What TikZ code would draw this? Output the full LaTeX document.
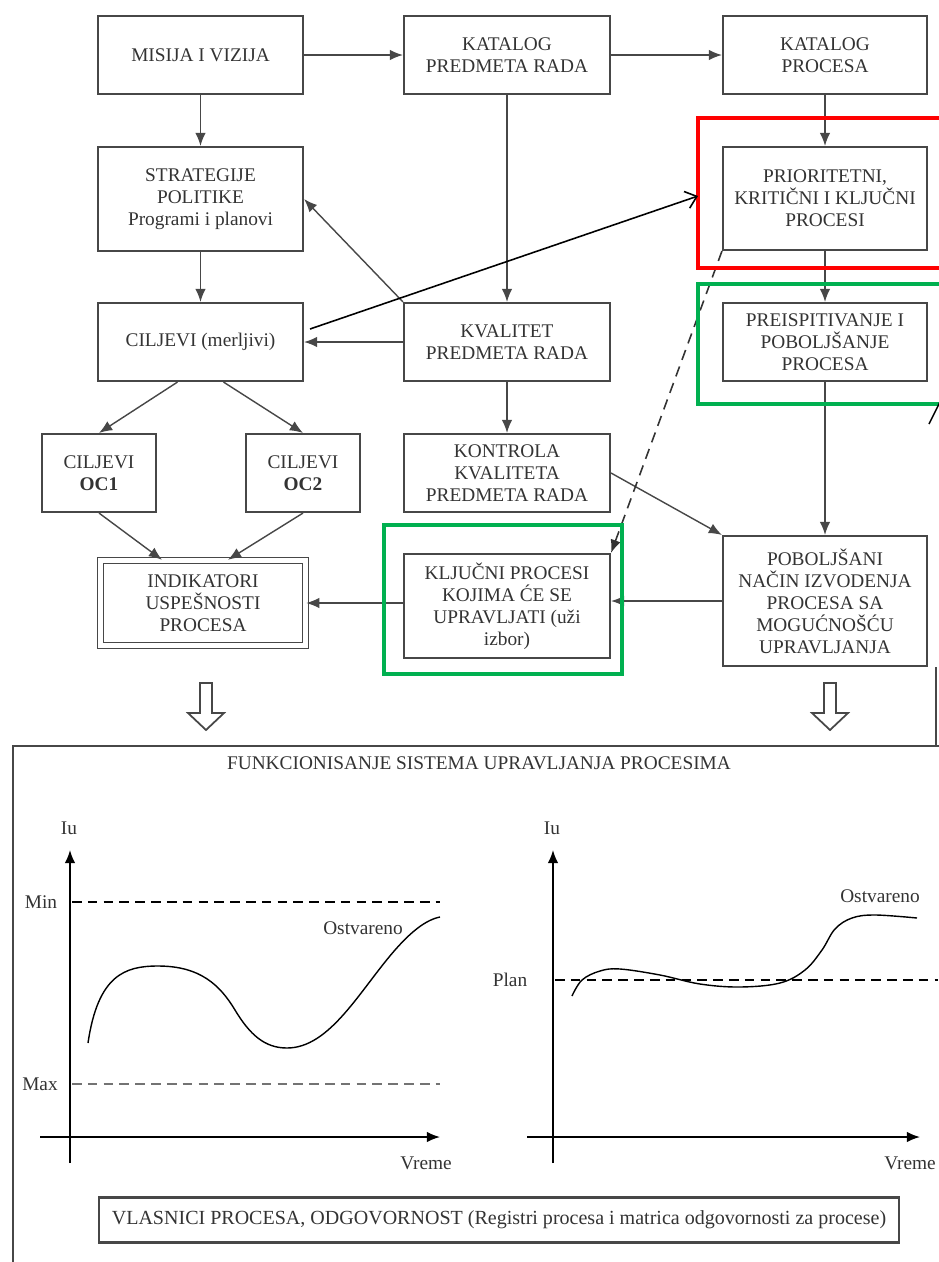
\documentclass[tikz,border=0pt]{standalone}
\usepackage{fontspec}
\setmainfont{Liberation Serif}
\usepackage{xcolor}
\usepackage{tikz}
\usetikzlibrary{calc,arrows.meta}
\definecolor{ink}{HTML}{333333}
\definecolor{edge}{HTML}{474747}
\definecolor{hired}{HTML}{FF0000}
\definecolor{higreen}{HTML}{00B050}
\tikzset{
  box/.style={draw=edge, line width=1.2pt, text=ink, align=center, inner sep=2pt,
    font=\fontsize{11}{12.5}\selectfont},
  dblbox/.style={box, line width=0.8pt, double=white, double distance=2.4pt},
  link/.style={draw=edge, line width=0.8pt, -{Latex[length=7.5pt,width=6pt]}},
  thinlink/.style={draw=black, line width=0.9pt, -{Straight Barb[length=6pt,width=10pt]}},
  dashlink/.style={draw=black!80, line width=0.9pt, dash pattern=on 6pt off 4pt, -{Latex[length=7.5pt,width=6pt]}},
  redframe/.style={draw=hired, line width=2.8pt},
  greenframe/.style={draw=higreen, line width=2pt},
  frame/.style={draw=edge, line width=1.1pt},
  axis/.style={draw=black, line width=0.9pt},
  axisarrow/.style={axis, -{Latex[length=7.5pt,width=6pt]}},
  limit/.style={draw=black, line width=0.9pt, dash pattern=on 5.5pt off 3.5pt},
  curve/.style={draw=black, line width=0.8pt},
  lab/.style={text=ink, font=\fontsize{11}{12.5}\selectfont},
  hollow/.style={draw=edge, line width=1pt, fill=white},
}

\begin{document}
\begin{tikzpicture}[x=0.02cm,y=-0.02cm]
  \useasboundingbox (0,0) rectangle (938,1262);

  % upper chart
  \node[box, minimum width=4.1cm, minimum height=1.56cm] (misija) at (200.5,55) {MISIJA I VIZIJA};
  \node[box, minimum width=4.12cm, minimum height=1.56cm] (katpred) at (507,55) {KATALOG\\PREDMETA RADA};
  \node[box, minimum width=4.08cm, minimum height=1.56cm] (katproc) at (825,55) {KATALOG\\PROCESA};
  \node[box, minimum width=4.1cm, minimum height=2.08cm] (strat) at (200.5,199) {STRATEGIJE\\POLITIKE\\Programi i planovi};
  \node[box, minimum width=4.08cm, minimum height=2.06cm] (crit) at (825,198.5) {PRIORITETNI,\\KRITIČNI I KLJUČNI\\PROCESI};
  \node[box, minimum width=4.1cm, minimum height=1.56cm] (cilj) at (200.5,342) {CILJEVI (merljivi)};
  \node[box, minimum width=4.12cm, minimum height=1.56cm] (kval) at (507,342) {KVALITET\\PREDMETA RADA};
  \node[box, minimum width=4.08cm, minimum height=1.56cm] (preisp) at (825,342) {PREISPITIVANJE I\\POBOLJŠANJE\\PROCESA};
  \node[box, minimum width=2.28cm, minimum height=1.56cm] (oc1) at (99,473) {CILJEVI\\\textbf{OC1}};
  \node[box, minimum width=2.28cm, minimum height=1.56cm] (oc2) at (303,473) {CILJEVI\\\textbf{OC2}};
  \node[box, minimum width=4.12cm, minimum height=1.56cm] (kontr) at (507,473) {KONTROLA\\KVALITETA\\PREDMETA RADA};
  \node[dblbox, minimum width=4.1cm, minimum height=1.7cm] (ind) at (203,603) {INDIKATORI\\USPEŠNOSTI\\PROCESA};
  \node[box, minimum width=4.12cm, minimum height=2.08cm] (klj) at (507,606) {KLJUČNI PROCESI\\KOJIMA ĆE SE\\UPRAVLJATI (uži\\izbor)};
  \node[box, minimum width=4.08cm, minimum height=2.6cm] (pob) at (825,601) {POBOLJŠANI\\NAČIN IZVODENJA\\PROCESA SA\\MOGUĆNOŠĆU\\UPRAVLJANJA};

  \draw[link] (misija) -- (katpred);
  \draw[link] (katpred) -- (katproc);
  \draw[link] (misija) -- (strat);
  \draw[link] (katproc) -- (crit);
  \draw[link] (strat) -- (cilj);
  \draw[link] (katpred) -- (kval);
  \draw[link] (kval.north west) -- (strat.east);
  \draw[link] (kval) -- (cilj);
  \draw[link] (crit) -- (preisp);
  \draw[link] (kval) -- (kontr);
  \draw[link] ($(cilj.south)+(-23,0)$) -- (oc1.north);
  \draw[link] ($(cilj.south)+(23,0)$) -- (oc2.north);
  \draw[link] (oc1.south) -- ($(ind.north)+(-41,0)$);
  \draw[link] (oc2.south) -- ($(ind.north)+(25,0)$);
  \draw[link] (kontr.east) -- (pob.north west);
  \draw[link] (preisp) -- (pob);
  \draw[link] (pob.west) -- (pob.west -| klj.east);
  \draw[link] (klj.west |- ind.east) -- (ind.east);
  \draw[dashlink] (crit.south west) -- (klj.north east);

  % marked frames
  \draw[redframe] (945,118) -- (698,118) -- (698,268) -- (945,268);
  \draw[greenframe] (945,284) -- (698,284) -- (698,404) -- (945,404);
  \draw[greenframe] (384,525) rectangle (622,674);
  \coordinate (critin) at (698,196);
  \draw[thinlink] ($(cilj.east)+(6,-13)$) -- (critin);
  \draw[black, line width=0.8pt] (929,424) -- (940,402);

  \foreach \ax in {206,830}
    \draw[hollow] (\ax-6,683) -- (\ax+6,683) -- (\ax+6,713) -- (\ax+18,713)
      -- (\ax,730) -- (\ax-18,713) -- (\ax-6,713) -- cycle;

  % lower panel
  \draw[frame] (945,746) -- (13,746) -- (13,1270);
  \draw[frame, line width=0.7pt] (936,667) -- (936,746);
  \node[lab] (title) at (479,763) {FUNKCIONISANJE SISTEMA UPRAVLJANJA PROCESIMA};

  % left graph
  \draw[axisarrow] (70,1163) -- (70,850);
  \draw[axisarrow] (40,1137) -- (440,1137);
  \draw[limit] (72,902) -- (440,902);
  \draw[limit, draw=black!55, line width=1.4pt] (72,1084) -- (440,1084);
  \node[lab] (iuone) at (69,828) {Iu};
  \node[lab] (minlab) at (41,902) {Min};
  \node[lab] (maxlab) at (40,1084) {Max};
  \node[lab] (vrone) at (426,1163) {Vreme};
  \node[lab] (ostone) at (363,928) {Ostvareno};
  \draw[curve] (88,1043) .. controls (98,975) and (125,966) .. (158,966)
    .. controls (200,966) and (220,985) .. (235,1010)
    .. controls (250,1035) and (265,1048) .. (287,1048)
    .. controls (330,1048) and (360,990) .. (395,950)
    .. controls (410,933) and (425,920) .. (440,917);

  % right graph
  \draw[axisarrow] (553,1163) -- (553,850);
  \draw[axisarrow] (527,1137) -- (920,1137);
  \draw[limit] (555,980) -- (938,980);
  \node[lab] (iutwo) at (552,828) {Iu};
  \node[lab] (planlab) at (510,980) {Plan};
  \node[lab] (vrtwo) at (910,1163) {Vreme};
  \node[lab] (osttwo) at (880,896) {Ostvareno};
  \draw[curve] plot[smooth, tension=0.6] coordinates {(572,996) (582,980) (600,971) (620,969)
    (660,975) (700,984) (740,987) (780,983) (805,970) (822,950) (835,929) (852,918) (875,915) (917,918)};

  \node[box, minimum width=16cm, minimum height=0.9cm, font=\fontsize{11.4}{13}\selectfont] (vlas) at (499,1220)
    {VLASNICI PROCESA, ODGOVORNOST (Registri procesa i matrica odgovornosti za procese)};
\end{tikzpicture}
\end{document}
